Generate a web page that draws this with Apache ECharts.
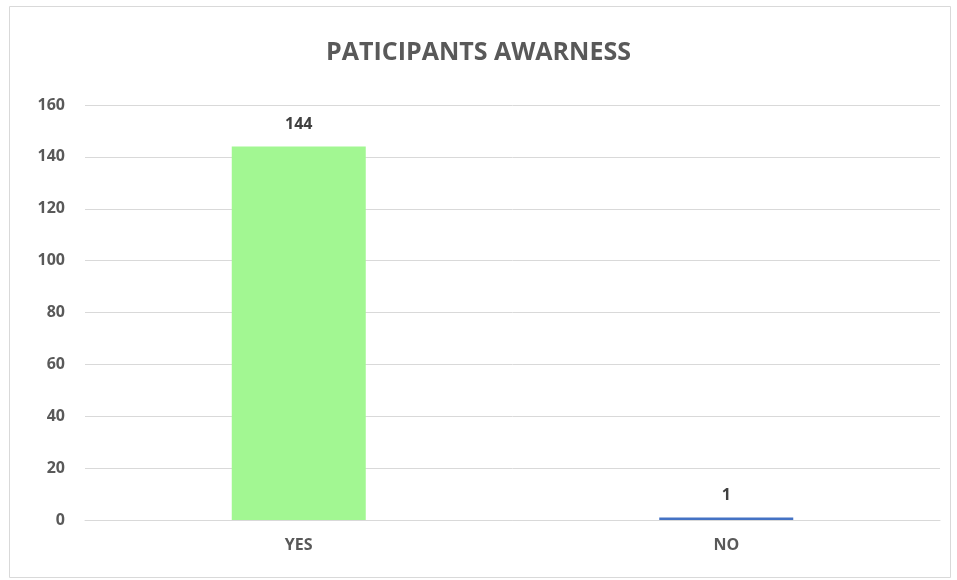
<!DOCTYPE html>
<html>
<head>
<meta charset="utf-8">
<script src="https://cdn.jsdelivr.net/npm/echarts@6/dist/echarts.min.js"></script>
<style>
  html, body { margin: 0; padding: 0; background: #fff; }
  #main { width: 957px; height: 580px; }
</style>
</head>
<body>
<div id="main"></div>
<script>
var categories = ['YES', 'NO'];
var values = [144, 1];
var barColors = ['#a2f792', '#4472c4'];
var yTicks = [0, 160, 20]; // min, max, step

var chart = echarts.init(document.getElementById('main'));

chart.setOption({
  animation: false,
  textStyle: { fontFamily: 'Open Sans' },
  graphic: [{
    type: 'rect',
    shape: { x: 9.5, y: 6.5, width: 941, height: 571 },
    style: { fill: 'none', stroke: '#d9d9d9', lineWidth: 1 }
  }],
  title: {
    text: 'PATICIPANTS AWARNESS',
    left: 'center',
    top: 35,
    textStyle: {
      fontFamily: 'Open Sans',
      fontSize: 25,
      fontWeight: 'bold',
      color: '#595959'
    }
  },
  grid: { left: 85, right: 17, top: 105, bottom: 60 },
  xAxis: {
    type: 'category',
    data: categories,
    axisTick: { show: false },
    axisLine: { lineStyle: { color: '#d9d9d9' } },
    axisLabel: { color: '#595959', fontWeight: 'bold', fontSize: 16, margin: 17 }
  },
  yAxis: {
    type: 'value',
    min: yTicks[0],
    max: yTicks[1],
    interval: yTicks[2],
    axisLine: { show: false },
    axisLabel: { color: '#595959', fontWeight: 'bold', fontSize: 16, margin: 20 },
    splitLine: { lineStyle: { color: '#d9d9d9' } }
  },
  series: [{
    type: 'bar',
    barWidth: 134,
    data: values.map(function (v, i) {
      return { value: v, itemStyle: { color: barColors[i] } };
    }),
    label: {
      show: true,
      position: 'top',
      distance: 14,
      color: '#404040',
      fontWeight: 'bold',
      fontSize: 16
    }
  }]
});
</script>
</body>
</html>
